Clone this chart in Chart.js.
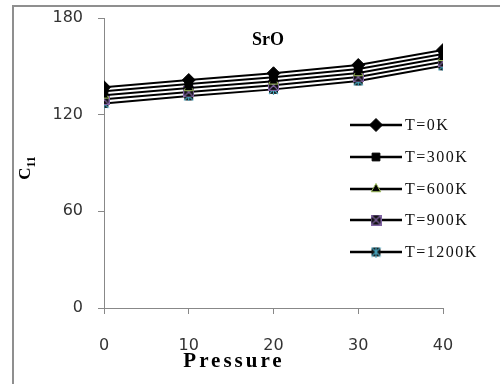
<!DOCTYPE html>
<html>
<head>
<meta charset="utf-8">
<script src="https://cdn.jsdelivr.net/npm/chart.js@4.4.0/dist/chart.umd.min.js"></script>
<style>
  html, body { margin: 0; padding: 0; background: #fff; overflow: hidden; }
  #wrap { position: relative; width: 500px; height: 384px; overflow: hidden; }
  #chart { position: absolute; left: 0; top: 0; }
</style>
</head>
<body>
<div id="wrap"><canvas id="chart" width="500" height="384"></canvas></div>
<script>
// SrO elastic constant C11 vs pressure at several temperatures
const pressure = [0, 10, 20, 30, 40];
const c11_T0 = [137, 141.5, 145.7, 150.8, 160.1];
const c11_T300 = [134.5, 139, 143.2, 148.4, 157.6];
const c11_T600 = [132, 136.6, 140.7, 145.9, 155.3];
const c11_T900 = [129.5, 134.1, 138.2, 143.4, 152.8];
const c11_T1200 = [127, 131.6, 135.7, 140.9, 150.3];
const yTicks = [0, 60, 120, 180];

// marker made of a dark square with a coloured overlay, like the excel markers
function makeMarker(kind, color) {
    const c = document.createElement("canvas");
    c.width = 11; c.height = 11;
    const g = c.getContext("2d");
    g.fillStyle = "#111";
    g.fillRect(1, 1, 9, 9);
    g.strokeStyle = color;
    g.lineWidth = 1.2;
    g.beginPath();
    g.moveTo(1, 1); g.lineTo(10, 10);
    g.moveTo(10, 1); g.lineTo(1, 10);
    if (kind === "star") {
        g.moveTo(5.5, 0); g.lineTo(5.5, 11);
    } else {
        g.rect(0.5, 0.5, 10, 10);
    }
    g.stroke();
    return c;
}

const series = [
    { label: "T=0K", data: c11_T0, style: "rectRot", radius: 6.5, border: "#000" },
    { label: "T=300K", data: c11_T300, style: "rect", radius: 5.5, border: "#000" },
    { label: "T=600K", data: c11_T600, style: "triangle", radius: 5.5, border: "#9bbb59" },
    { label: "T=900K", data: c11_T900, style: makeMarker("x", "#8064a2"), radius: 5, border: "#8064a2" },
    { label: "T=1200K", data: c11_T1200, style: makeMarker("star", "#4bacc6"), radius: 5, border: "#4bacc6" }
];

const extras = {
    id: "extras",
    afterDraw(chart) {
        const ctx = chart.ctx;
        ctx.save();
        // outer frame: only the left and top edges fall inside the picture
        ctx.fillStyle = "#8f8f8f";
        ctx.fillRect(12, 5, 2, 379);
        ctx.fillRect(12, 5, 488, 2);

        ctx.fillStyle = "#000";
        ctx.textBaseline = "middle";
        // title inside the plot
        ctx.textAlign = "center";
        ctx.font = "bold 18px 'Liberation Serif'";
        ctx.fillText("SrO", 268, 40);
        // x axis title
        ctx.font = "bold 21px 'Liberation Serif'";
        ctx.letterSpacing = "3px";
        ctx.fillText("Pressure", 234, 362);
        ctx.letterSpacing = "0px";
        // y axis title C11
        ctx.translate(28, 168);
        ctx.rotate(-Math.PI / 2);
        ctx.textAlign = "left";
        ctx.font = "bold 17px 'Liberation Serif'";
        const cw = ctx.measureText("C").width;
        ctx.font = "bold 12px 'Liberation Serif'";
        const sw = ctx.measureText("11").width;
        const x0 = -(cw + sw) / 2;
        ctx.font = "bold 17px 'Liberation Serif'";
        ctx.fillText("C", x0, -2);
        ctx.font = "bold 12px 'Liberation Serif'";
        ctx.fillText("11", x0 + cw, 4);
        ctx.restore();

        // legend inside the plot
        ctx.save();
        const rowY = [125, 157, 189, 220, 252];
        chart.data.datasets.forEach((ds, i) => {
            const y = rowY[i];
            ctx.strokeStyle = "#000";
            ctx.lineWidth = 2.5;
            ctx.beginPath();
            ctx.moveTo(350, y);
            ctx.lineTo(402, y);
            ctx.stroke();
            ctx.fillStyle = "#000";
            ctx.strokeStyle = ds.pointBorderColor;
            ctx.lineWidth = 1;
            Chart.helpers.drawPoint(ctx, {
                pointStyle: ds.pointStyle,
                radius: ds.pointRadius,
                borderWidth: 1
            }, 376, y);
            ctx.fillStyle = "#111";
            ctx.font = "16px 'Liberation Serif'";
            ctx.letterSpacing = "1.5px";
            ctx.textAlign = "left";
            ctx.textBaseline = "middle";
            ctx.fillText(ds.label, 405, y + 1);
            ctx.letterSpacing = "0px";
        });
        ctx.restore();
    }
};

const canvas = document.querySelector("#chart");
const chart = new Chart(canvas, {
    type: "line",
    data: {
        datasets: series.map(s => ({
            label: s.label,
            data: s.data.map((v, i) => ({ x: pressure[i], y: v })),
            borderColor: "#000",
            borderWidth: 2,
            backgroundColor: "#000",
            pointBackgroundColor: "#000",
            pointBorderColor: s.border,
            pointBorderWidth: 1,
            pointStyle: s.style,
            pointRadius: s.radius,
            pointHoverRadius: s.radius,
            tension: 0,
            fill: false
        }))
    },
    options: {
        responsive: false,
        animation: false,
        events: [],
        layout: { padding: { left: 0, right: 57, top: 18, bottom: 26 } },
        plugins: {
            legend: { display: false },
            tooltip: { enabled: false },
            title: { display: false }
        },
        scales: {
            x: {
                type: "linear",
                min: 0,
                max: 40,
                afterFit: s => { s.height = 50; s.paddingLeft = 0; s.paddingRight = 0; },
                afterBuildTicks: s => { s.ticks = pressure.map(v => ({ value: v })); },
                grid: { display: true, drawOnChartArea: false, drawTicks: true, tickLength: 6, color: "#888" },
                border: { color: "#888", width: 1 },
                ticks: { color: "#333", padding: 22, maxRotation: 0, font: { family: "DejaVu Sans", size: 16 } }
            },
            y: {
                min: 0,
                max: 180,
                afterFit: s => { s.width = 104; s.paddingTop = 0; s.paddingBottom = 0; },
                afterBuildTicks: s => { s.ticks = yTicks.map(v => ({ value: v })); },
                grid: { display: true, drawOnChartArea: false, drawTicks: true, tickLength: 6, color: "#888" },
                border: { color: "#888", width: 1 },
                ticks: { color: "#333", padding: 15, font: { family: "DejaVu Sans", size: 16 } }
            }
        }
    },
    plugins: [extras]
});
</script>
</body>
</html>
